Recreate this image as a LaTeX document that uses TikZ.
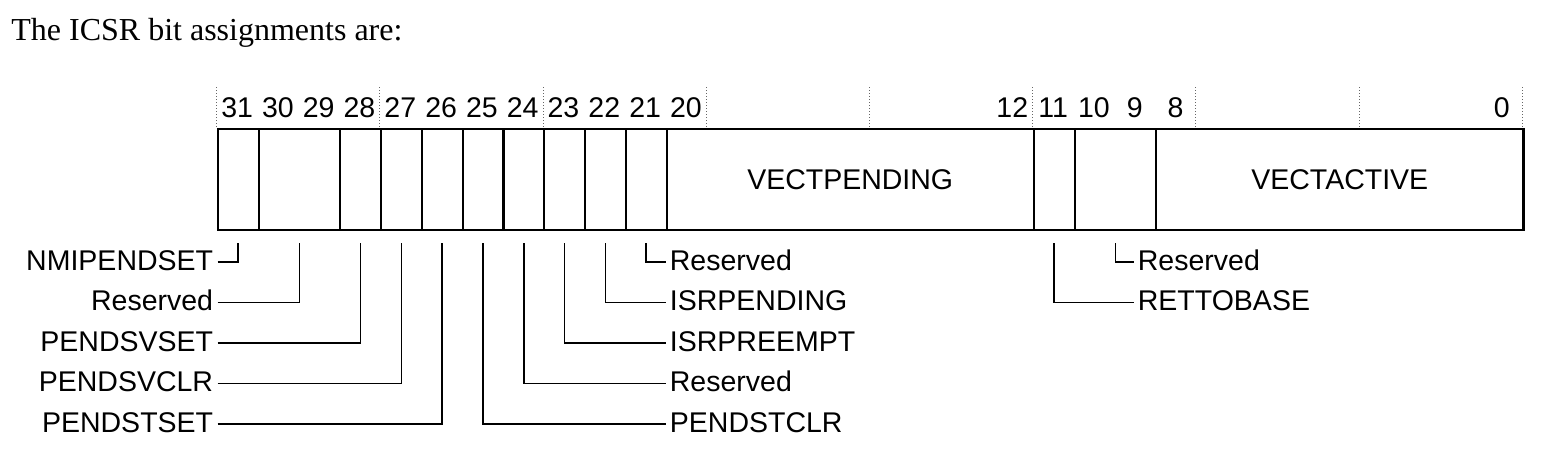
\documentclass[tikz,border=0pt]{standalone}
\usepackage{fontspec}
\setmainfont{Liberation Serif}
\setsansfont{Liberation Sans}
\tikzset{
  field/.style={draw, line width=1.1pt, rectangle, inner sep=0pt, minimum height=50.5pt, minimum width=20.4pt, anchor=west, font=\sffamily\fontsize{14.25}{17}\selectfont},
  wide/.style={minimum width=40.8pt},
  bitnum/.style={font=\sffamily\fontsize{14.25}{17}\selectfont, anchor=base, inner sep=0pt},
  lbl/.style={font=\sffamily\fontsize{14.25}{17}\selectfont, inner xsep=2pt, inner ysep=0pt, text height=10.2pt, text depth=2pt},
  lleft/.style={lbl, anchor=east},
  lright/.style={lbl, anchor=west},
  leader/.style={line width=0.8pt, shorten >=5.7pt},
  tick/.style={densely dotted, gray!80!black, line width=0.5pt}
}
\begin{document}
\begin{tikzpicture}[x=0.5pt, y=-0.5pt]
\useasboundingbox (0,0) rectangle (1554,462);
\node[anchor=base west, inner sep=0pt, font=\fontsize{16}{19}\selectfont] (title) at (11,40) {The ICSR bit assignments are:};
% register fields
\node[field] (f31) at (216.7,179.5) {};
\node[field, wide] (f30) at (257.5,179.5) {};
\node[field] (f28) at (339.1,179.5) {};
\node[field] (f27) at (379.9,179.5) {};
\node[field] (f26) at (420.7,179.5) {};
\node[field] (f25) at (461.5,179.5) {};
\node[field] (f24) at (502.3,179.5) {};
\node[field] (f23) at (543.1,179.5) {};
\node[field] (f22) at (583.9,179.5) {};
\node[field] (f21) at (624.7,179.5) {};
\node[field, minimum width=183.6pt] (vp) at (665.5,179.5) {VECTPENDING};
\node[field] (f11) at (1032.7,179.5) {};
\node[field, wide] (f10) at (1073.5,179.5) {};
\node[field, minimum width=183.6pt] (va) at (1155.1,179.5) {VECTACTIVE};
% bit numbers
\node[bitnum] (b31) at (237.1,117) {31};
\node[bitnum] (b30) at (277.9,117) {30};
\node[bitnum] (b29) at (318.7,117) {29};
\node[bitnum] (b28) at (359.5,117) {28};
\node[bitnum] (b27) at (400.3,117) {27};
\node[bitnum] (b26) at (441.1,117) {26};
\node[bitnum] (b25) at (481.9,117) {25};
\node[bitnum] (b24) at (522.7,117) {24};
\node[bitnum] (b23) at (563.5,117) {23};
\node[bitnum] (b22) at (604.3,117) {22};
\node[bitnum] (b21) at (645.1,117) {21};
\node[bitnum] (b20) at (685.9,117) {20};
\node[bitnum] (b12) at (1012.3,117) {12};
\node[bitnum] (b11) at (1053.1,117) {11};
\node[bitnum] (b10) at (1093.9,117) {10};
\node[bitnum] (b9) at (1134.7,117) {9};
\node[bitnum] (b8) at (1175.5,117) {8};
\node[bitnum] (b0) at (1501.9,117) {0};
% nibble ticks
\foreach \x in {216.7,379.9,543.1,706.3,869.5,1032.7,1195.9,1359.1,1522.3}
  \draw[tick] (\x,87) -- (\x,129);
% left labels
\node[lleft] (nmi) at (217.5,262) {NMIPENDSET};
\node[lleft] (rsv30) at (217.5,302.5) {Reserved};
\node[lleft] (svset) at (217.5,343) {PENDSVSET};
\node[lleft] (svclr) at (217.5,383.5) {PENDSVCLR};
\node[lleft] (stset) at (217.5,424) {PENDSTSET};
% right labels
\node[lright] (rsv21) at (665.5,262) {Reserved};
\node[lright] (isrpend) at (665.5,302.5) {ISRPENDING};
\node[lright] (isrpre) at (665.5,343) {ISRPREEMPT};
\node[lright] (rsv24) at (665.5,383.5) {Reserved};
\node[lright] (stclr) at (665.5,424) {PENDSTCLR};
\node[lright] (rsv10) at (1133.5,262) {Reserved};
\node[lright] (ret) at (1133.5,302.5) {RETTOBASE};
% leaders
\draw[leader] (nmi.east) -| (f31.south);
\draw[leader] (rsv30.east) -| (f30.south);
\draw[leader] (svset.east) -| (f28.south);
\draw[leader] (svclr.east) -| (f27.south);
\draw[leader] (stset.east) -| (f26.south);
\draw[leader] (rsv21.west) -| (f21.south);
\draw[leader] (isrpend.west) -| (f22.south);
\draw[leader] (isrpre.west) -| (f23.south);
\draw[leader] (rsv24.west) -| (f24.south);
\draw[leader] (stclr.west) -| (f25.south);
\draw[leader] (rsv10.west) -| (f10.south);
\draw[leader] (ret.west) -| (f11.south);
\end{tikzpicture}
\end{document}
